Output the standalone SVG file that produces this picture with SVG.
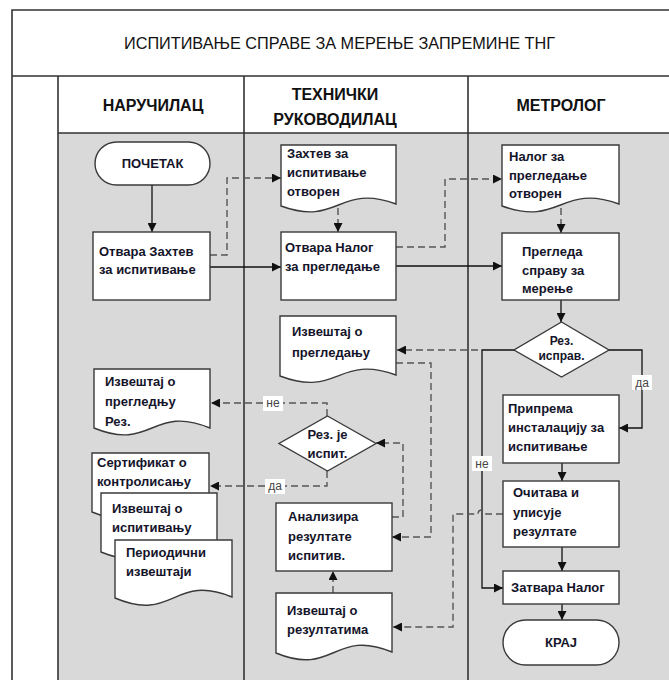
<svg xmlns="http://www.w3.org/2000/svg" width="669" height="680" viewBox="0 0 669 680">
<style>
.frame{fill:none;stroke:#333;stroke-width:1.6}
.node{fill:#fff;stroke:#3a3a3a;stroke-width:1.4}
.t{font-family:"Liberation Sans",Arial,sans-serif;font-weight:bold;font-size:13px;fill:#14142a}
.tc{text-anchor:middle}
.ts{font-size:12px}
.hdr{font-family:"Liberation Sans",Arial,sans-serif;font-weight:bold;font-size:16px;fill:#111;text-anchor:middle}
.solid{fill:none;stroke:#111;stroke-width:1.3}
.dash{fill:none;stroke:#555;stroke-width:1.4;stroke-dasharray:7 4}
.lbl{font-family:"Liberation Sans",Arial,sans-serif;font-size:12px;fill:#444;text-anchor:middle}
.lblbg{fill:#fff}
</style>
<defs>
<marker id="ah" viewBox="0 0 10 10" refX="10" refY="5" markerWidth="9" markerHeight="9" markerUnits="userSpaceOnUse" orient="auto">
<path d="M0,0 L10,5 L0,10 Z" fill="#111"/>
</marker>
</defs>
<rect x="0" y="0" width="669" height="680" fill="#fff"/>
<g id="lanes">
<rect x="58" y="133" width="611" height="547" fill="#d9d9d9"/>
<path class="frame" d="M12,680 V10 H669 M12,76 H669 M58,76 V680 M244,76 V680 M468,76 V680 M58,133 H669"/>
<text x="124" y="49" textLength="431" lengthAdjust="spacingAndGlyphs" style="font-family:'Liberation Sans',Arial,sans-serif;font-size:17px;fill:#111">ИСПИТИВАЊЕ СПРАВЕ ЗА МЕРЕЊЕ ЗАПРЕМИНЕ ТНГ</text>
<text class="hdr" x="153" y="111">НАРУЧИЛАЦ</text>
<text class="hdr" x="335" y="100">ТЕХНИЧКИ</text>
<text class="hdr" x="335" y="125">РУКОВОДИЛАЦ</text>
<text class="hdr" x="561" y="111">МЕТРОЛОГ</text>
</g>
<g id="connectors">
<path class="solid" d="M152,185 V232" marker-end="url(#ah)"/>
<path class="solid" d="M210,267 H281" marker-end="url(#ah)"/>
<path class="solid" d="M396,266 H502" marker-end="url(#ah)"/>
<path class="solid" d="M561,300 V322" marker-end="url(#ah)"/>
<path class="solid" d="M609,350 H642 V428 H619" marker-end="url(#ah)"/>
<path class="solid" d="M562,463 V481" marker-end="url(#ah)"/>
<path class="solid" d="M562,547 V571" marker-end="url(#ah)"/>
<path class="solid" d="M562,604 V620" marker-end="url(#ah)"/>
<path class="solid" d="M514,350 H482 V588 H503" marker-end="url(#ah)"/>
<path class="dash" d="M210,255 H227 V178 H281" marker-end="url(#ah)"/>
<path class="dash" d="M338,208 V232" marker-end="url(#ah)"/>
<path class="dash" d="M396,247 H445 V179 H502" marker-end="url(#ah)"/>
<path class="dash" d="M561,208 V233" marker-end="url(#ah)"/>
<path class="dash" d="M478,350 H397" marker-end="url(#ah)"/>
<path class="dash" d="M396,363 H431 V537 H392" marker-end="url(#ah)"/>
<path class="dash" d="M392,517 H403 V443 H376" marker-end="url(#ah)"/>
<path class="dash" d="M327,416 V403 H211" marker-end="url(#ah)"/>
<path class="dash" d="M327,471 V486 H210" marker-end="url(#ah)"/>
<path class="dash" d="M503,514 H486 A4,4 0 0 0 478,514 H453 V627 H393" marker-end="url(#ah)"/>
<path class="dash" d="M333,593 V571" marker-end="url(#ah)"/>
<rect class="lblbg" x="632" y="375" width="20" height="15"/>
<text class="lbl" x="642" y="387">да</text>
<rect class="lblbg" x="472" y="456" width="20" height="15"/>
<text class="lbl" x="482" y="468">не</text>
<rect class="lblbg" x="263" y="396" width="20" height="15"/>
<text class="lbl" x="273" y="407">не</text>
<rect class="lblbg" x="265" y="479" width="20" height="15"/>
<text class="lbl" x="275" y="490">да</text>
</g>
<g id="start">
<rect class="node" x="95" y="142" width="115" height="43" rx="21.5"/>
<text class="t tc" x="152.5" y="168">ПОЧЕТАК</text>
</g>
<g id="otvara-zahtev">
<rect class="node" x="93" y="232" width="117" height="68"/>
<text class="t" x="99" y="256">Отвара Захтев</text>
<text class="t" x="99" y="274">за испитивање</text>
</g>
<g id="zahtev-otvoren">
<path class="node" d="M281,145 H396 V204 C338.5,183 338.5,227 281,206 Z"/>
<text class="t" x="287" y="158">Захтев за</text>
<text class="t" x="287" y="177">испитивање</text>
<text class="t" x="287" y="196">отворен</text>
</g>
<g id="otvara-nalog">
<rect class="node" x="281" y="232" width="115" height="68"/>
<text class="t" x="285" y="252">Отвара Налог</text>
<text class="t" x="285" y="271">за прегледање</text>
</g>
<g id="nalog-otvoren">
<path class="node" d="M502,145 H619 V204 C560.5,183 560.5,227 502,206 Z"/>
<text class="t" x="509" y="161">Налог за</text>
<text class="t" x="509" y="180">прегледање</text>
<text class="t" x="509" y="198">отворен</text>
</g>
<g id="pregleda">
<rect class="node" x="502" y="233" width="117" height="67"/>
<text class="t" x="522" y="256">Прегледа</text>
<text class="t" x="522" y="275">справу за</text>
<text class="t" x="522" y="293">мерење</text>
</g>
<g id="rez-isprav">
<path class="node" d="M561.5,322 L609,350 L561.5,377 L514,350 Z"/>
<text class="t ts tc" x="561.5" y="345">Рез.</text>
<text class="t ts tc" x="561.5" y="360">исправ.</text>
</g>
<g id="priprema">
<rect class="node" x="503" y="395" width="116" height="68"/>
<text class="t" x="508" y="413">Припрема</text>
<text class="t" x="508" y="432">инсталацију за</text>
<text class="t" x="508" y="451">испитивање</text>
</g>
<g id="ocitava">
<rect class="node" x="503" y="481" width="116" height="66"/>
<text class="t" x="513" y="497">Очитава и</text>
<text class="t" x="513" y="517">уписује</text>
<text class="t" x="513" y="536">резултате</text>
</g>
<g id="zatvara">
<rect class="node" x="503" y="571" width="116" height="33"/>
<text class="t" x="511" y="592">Затвара Налог</text>
</g>
<g id="kraj">
<rect class="node" x="503" y="620" width="116" height="45" rx="22.5"/>
<text class="t tc" x="561" y="647">КРАЈ</text>
</g>
<g id="izvestaj-pregledanju">
<path class="node" d="M280,316 H396 V375 C338,354 338,398 280,376 Z"/>
<text class="t" x="292" y="336">Извештај о</text>
<text class="t" x="292" y="357">прегледању</text>
</g>
<g id="rez-ispit">
<path class="node" d="M327.5,416 L376,443.5 L327.5,471 L279,443.5 Z"/>
<text class="t tc" x="327.5" y="439">Рез. је</text>
<text class="t tc" x="327.5" y="458">испит.</text>
</g>
<g id="analizira">
<rect class="node" x="276" y="503" width="116" height="68"/>
<text class="t" x="288" y="521">Анализира</text>
<text class="t" x="288" y="541">резултате</text>
<text class="t" x="288" y="560">испитив.</text>
</g>
<g id="izvestaj-rezultatima">
<path class="node" d="M276,593 H392 V652 C334,628 334,677 276,653 Z"/>
<text class="t" x="287" y="615">Извештај о</text>
<text class="t" x="287" y="634">резултатима</text>
</g>
<g id="izvestaj-pregledu-rez">
<path class="node" d="M94,369 H210 V428 C152,404 152,452 94,428 Z"/>
<text class="t" x="105" y="386">Извештај о</text>
<text class="t" x="105" y="406">прегледњу</text>
<text class="t" x="105" y="426">Рез.</text>
</g>
<g id="sertifikat">
<path class="node" d="M92,453 H209 V512 C150.5,488 150.5,536 92,512 Z"/>
<text class="t" x="97" y="467">Сертификат о</text>
<text class="t" x="97" y="486">контролисању</text>
</g>
<g id="izvestaj-ispitivanju">
<path class="node" d="M101,493 H217 V552 C159,528 159,576 101,552 Z"/>
<text class="t" x="112" y="513">Извештај о</text>
<text class="t" x="112" y="532">испитивању</text>
</g>
<g id="periodicni">
<path class="node" d="M115,540 H232 V597 C173.5,573 173.5,623 115,598 Z"/>
<text class="t" x="126" y="557">Периодични</text>
<text class="t" x="126" y="576">извештаји</text>
</g>
</svg>
